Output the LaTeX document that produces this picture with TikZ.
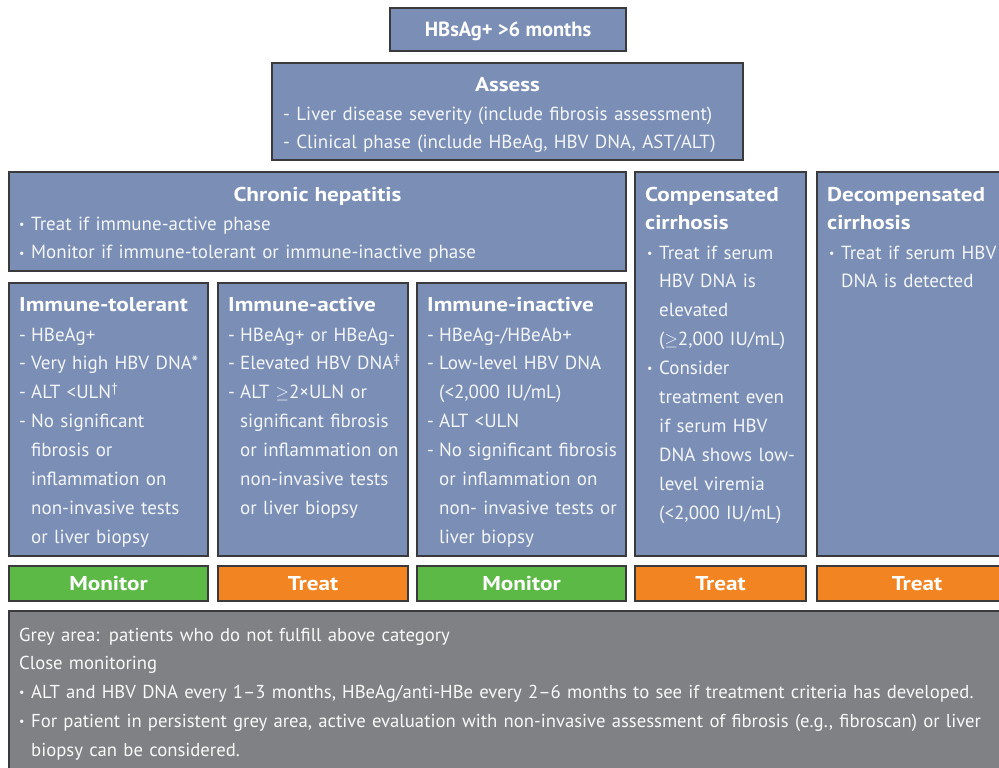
\documentclass[tikz,border=0pt]{standalone}
\usepackage{fontspec}
\setmainfont{PT Sans}
\newfontfamily\headfont{PT Sans}[FakeStretch=1.16]
\usetikzlibrary{positioning}

\definecolor{boxblue}{HTML}{7A8EB6}
\definecolor{mongreen}{HTML}{5DB946}
\definecolor{treatorange}{HTML}{F28421}
\definecolor{greyarea}{HTML}{808184}
\definecolor{edgegrey}{HTML}{3A3A3C}

\newcommand{\dsh}{\makebox[12pt][l]{-}}
\newcommand{\bul}{\makebox[12pt][l]{\fontsize{12}{12}\selectfont\raisebox{.3ex}{•}}}
\newcommand{\hng}{\hspace*{12pt}}

\begin{document}
\begin{tikzpicture}[
  x=1pt, y=-1pt,
  font=\fontsize{19}{28.9}\selectfont,
  panel/.style={draw=edgegrey, line width=1.4pt, fill=boxblue, inner sep=0pt, outer sep=0pt, anchor=north west},
  verdict/.style={panel, font=\fontsize{20}{24}\selectfont\headfont\bfseries, text=white},
  caption/.style={font=\fontsize{20}{24}\selectfont\headfont\bfseries, text=white, inner sep=0pt, anchor=base},
  head/.style={font=\fontsize{20}{28.9}\selectfont\headfont\bfseries, text=white, inner sep=0pt, anchor=base west, align=left, text width=170pt},
  body/.style={text=white!92!boxblue, inner sep=0pt, anchor=base west, align=left, text width=180pt},
  wide/.style={body, font=\fontsize{18.7}{28.8}\selectfont, text=white!95!greyarea, text width=975pt}
]
\useasboundingbox (0,0) rectangle (999,768);
\clip (0,0) rectangle (999,768);

\node[panel, minimum width=236pt, minimum height=43pt] (start) at (390,8) {};
\node[caption, font=\fontsize{20.5}{24}\selectfont\bfseries] (starttxt) at ([yshift=-29pt]start.north) {HBsAg+ >6 months};

\node[panel, minimum width=471pt, minimum height=97pt] (assess) at (272,63) {};
\node[caption] (assesstitle) at ([yshift=-29pt]assess.north) {Assess};
\node[body, text width=450pt] (assesstxt) at ([xshift=11pt, yshift=-57pt]assess.north west) {- Liver disease severity (include fibrosis assessment)\\- Clinical phase (include HBeAg, HBV DNA, AST/ALT)};

\node[panel, minimum width=617pt, minimum height=99pt] (chronic) at (9,172) {};
\node[caption] (chronictitle) at ([yshift=-29pt]chronic.north) {Chronic hepatitis};
\node[body, text width=590pt] (chronictxt) at ([xshift=10pt, yshift=-58pt]chronic.north west) {\bul Treat if immune-active phase\\\bul Monitor if immune-tolerant or immune-inactive phase};

\node[panel, minimum width=171pt, minimum height=384pt, right=9pt of chronic.north east, anchor=north west] (comp) {};
\node[head, text width=155pt] (comptitle) at ([xshift=10pt, yshift=-29pt]comp.north west) {Compensated\\cirrhosis};
\node[body, text width=155pt] (comptxt) at ([xshift=12pt, yshift=-87pt]comp.north west) {\bul Treat if serum\\\hng HBV DNA is\\\hng elevated\\\hng (\ensuremath{\geq}2,000 IU/mL)\\\bul Consider\\\hng treatment even\\\hng if serum HBV\\\hng DNA shows low-\\\hng level viremia\\\hng (<2,000 IU/mL)};

\node[panel, minimum width=200pt, minimum height=384pt, right=11pt of comp.north east, anchor=north west] (decomp) {};
\node[head] (decomptitle) at ([xshift=10pt, yshift=-29pt]decomp.north west) {Decompensated\\cirrhosis};
\node[body, text width=170pt] (decomptxt) at ([xshift=12pt, yshift=-87pt]decomp.north west) {\bul Treat if serum HBV\\\hng DNA is detected};

\node[panel, minimum width=199pt, minimum height=273pt, below=12pt of chronic.south west, anchor=north west] (tol) {};
\node[panel, minimum width=190pt, minimum height=273pt, right=10pt of tol.north east, anchor=north west] (act) {};
\node[panel, minimum width=209pt, minimum height=273pt, right=9pt of act.north east, anchor=north west] (inact) {};

\node[head] (toltitle) at ([xshift=10pt, yshift=-28pt]tol.north west) {Immune-tolerant};
\node[body] (toltxt) at ([xshift=10pt, yshift=-58pt]tol.north west) {\dsh HBeAg+\\\dsh Very high HBV DNA*\\\dsh ALT <ULN\textsuperscript{†}\\\dsh No significant\\\hng fibrosis or\\\hng inflammation on\\\hng non-invasive tests\\\hng or liver biopsy};
\node[head] (acttitle) at ([xshift=10pt, yshift=-28pt]act.north west) {Immune-active};
\node[body, text width=185pt] (acttxt) at ([xshift=10pt, yshift=-58pt]act.north west) {\dsh HBeAg+ or HBeAg-\\\dsh Elevated HBV DNA\textsuperscript{‡}\\\dsh ALT \ensuremath{\geq}2×ULN or\\\hng significant fibrosis\\\hng or inflammation on\\\hng non-invasive tests\\\hng or liver biopsy};
\node[head, text width=190pt] (inacttitle) at ([xshift=10pt, yshift=-28pt]inact.north west) {Immune-inactive};
\node[body, text width=192pt] (inacttxt) at ([xshift=10pt, yshift=-58pt]inact.north west) {\dsh HBeAg-/HBeAb+\\\dsh Low-level HBV DNA\\\hng (<2,000 IU/mL)\\\dsh ALT <ULN\\\dsh No significant fibrosis\\\hng or inflammation on\\\hng non- invasive tests or\\\hng liver biopsy};

\node[verdict, fill=mongreen, minimum width=199pt, minimum height=35pt, below=10pt of tol.south west, anchor=north west] (tolact) {Monitor};
\node[verdict, fill=treatorange, minimum width=190pt, minimum height=35pt, below=10pt of act.south west, anchor=north west] (actact) {Treat};
\node[verdict, fill=mongreen, minimum width=209pt, minimum height=35pt, below=10pt of inact.south west, anchor=north west] (inactact) {Monitor};
\node[verdict, fill=treatorange, minimum width=171pt, minimum height=35pt, below=10pt of comp.south west, anchor=north west] (compact) {Treat};
\node[verdict, fill=treatorange, minimum width=200pt, minimum height=35pt, below=10pt of decomp.south west, anchor=north west] (decompact) {Treat};

\node[panel, fill=greyarea, minimum width=1000pt, minimum height=170pt, below=10pt of tolact.south west, anchor=north west] (grey) {};
\node[wide] (greytxt) at ([xshift=10pt, yshift=-30pt]grey.north west) {Grey area: patients who do not fulfill above category\\Close monitoring\\\bul ALT and HBV DNA every 1–3 months, HBeAg/anti-HBe every 2–6 months to see if treatment criteria has developed.\\\bul For patient in persistent grey area, active evaluation with non-invasive assessment of fibrosis (e.g., fibroscan) or liver\\\hng biopsy can be considered.};
\end{tikzpicture}
\end{document}
